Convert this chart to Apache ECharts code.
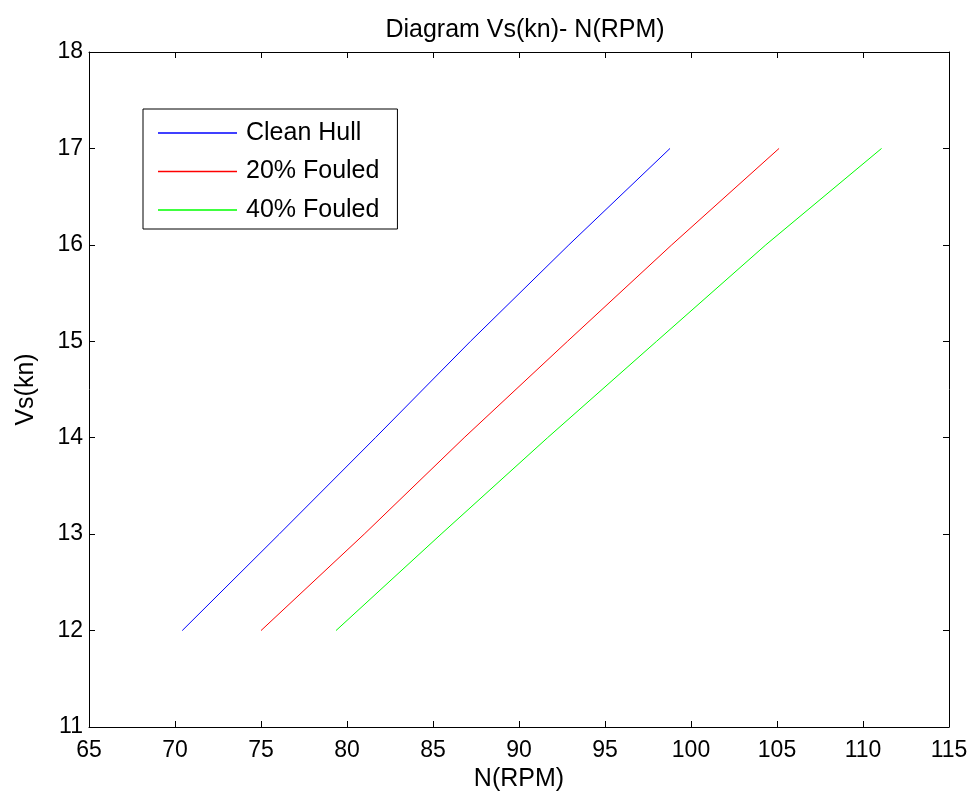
<!DOCTYPE html>
<html>
<head>
<meta charset="utf-8">
<script src="https://cdn.jsdelivr.net/npm/echarts@6/dist/echarts.min.js"></script>
<style>html,body{margin:0;padding:0;background:#fff}#c{width:976px;height:801px}</style>
</head>
<body>
<div id="c"></div>
<script>
const speeds = [12, 13, 14, 15, 16, 17];
const cleanHull = [70.42, 76.06, 81.65, 87.18, 92.90, 98.78];
const fouled20 = [75.00, 81.00, 86.81, 92.82, 98.88, 105.12];
const fouled40 = [79.36, 85.47, 91.66, 98.00, 104.35, 111.08];
const seriesNames = ['Clean Hull', '20% Fouled', '40% Fouled'];
const seriesColors = ['#0000ff', '#ff0000', '#00ff00'];
const xTicks = {min: 65, max: 115, interval: 5};
const yTicks = {min: 11, max: 18, interval: 1};

const FONT = 'Liberation Sans, Arial, sans-serif';
const pairs = arr => arr.map((x, i) => [x, speeds[i]]);
const allData = [cleanHull, fouled20, fouled40];

const axisCommon = {
  axisLine: {show: true, onZero: false, lineStyle: {color: '#000', width: 1}},
  axisTick: {show: true, inside: true, length: 6, lineStyle: {color: '#000'}},
  splitLine: {show: false}
};

const chart = echarts.init(document.getElementById('c'), null, {renderer: 'canvas'});
chart.setOption({
  animation: false,
  backgroundColor: '#fff',
  title: {
    text: 'Diagram Vs(kn)- N(RPM)',
    left: 520, top: 13, textAlign: 'center',
    textStyle: {fontFamily: FONT, fontSize: 25, fontWeight: 'normal', color: '#000'}
  },
  grid: {left: 89, right: 27, top: 52, bottom: 74, containLabel: false},
  legend: {
    orient: 'vertical', left: 143, top: 109,
    data: seriesNames,
    icon: 'rect', itemWidth: 79, itemHeight: 1.5, itemGap: 13.5,
    borderColor: '#000', borderWidth: 1, backgroundColor: '#fff',
    padding: [11.5, 18, 6.5, 15],
    textStyle: {fontFamily: FONT, fontSize: 25, lineHeight: 25, color: '#000', padding: [0, 0, 0, 4]}
  },
  xAxis: [
    Object.assign({type: 'value', position: 'bottom', min: xTicks.min, max: xTicks.max, interval: xTicks.interval,
      name: 'N(RPM)', nameLocation: 'middle', nameGap: 37,
      nameTextStyle: {fontFamily: FONT, fontSize: 25, color: '#000'},
      axisLabel: {fontFamily: FONT, fontSize: 23, color: '#000', margin: 12}}, axisCommon),
    Object.assign({type: 'value', position: 'top', min: xTicks.min, max: xTicks.max, interval: xTicks.interval,
      axisLabel: {show: false}}, axisCommon)
  ],
  yAxis: [
    Object.assign({type: 'value', position: 'left', min: yTicks.min, max: yTicks.max, interval: yTicks.interval,
      name: 'Vs(kn)', nameLocation: 'middle', nameGap: 50,
      nameTextStyle: {fontFamily: FONT, fontSize: 25, color: '#000'},
      axisLabel: {fontFamily: FONT, fontSize: 23, color: '#000', margin: 6}}, axisCommon),
    Object.assign({type: 'value', position: 'right', min: yTicks.min, max: yTicks.max, interval: yTicks.interval,
      axisLabel: {show: false}}, axisCommon)
  ],
  series: seriesNames.map((n, i) => ({
    name: n, type: 'line', data: pairs(allData[i]), showSymbol: false, symbol: 'none',
    smooth: false, lineStyle: {color: seriesColors[i], width: 1}, itemStyle: {color: seriesColors[i]},
    xAxisIndex: 0, yAxisIndex: 0
  }))
});
</script>
</body>
</html>
